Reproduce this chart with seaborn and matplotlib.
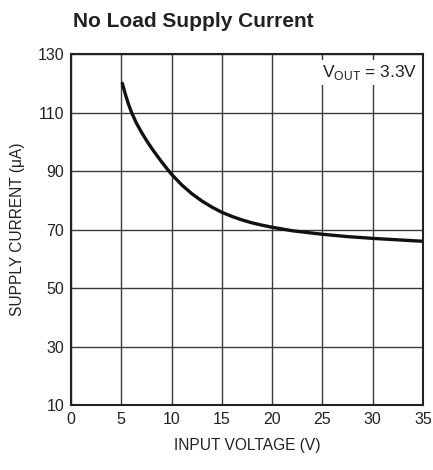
import numpy as np
import pandas as pd
import matplotlib
matplotlib.use('Agg')
import matplotlib.pyplot as plt
import seaborn as sns

# values
vin = [5.1, 5.4, 5.7, 6.0, 6.5, 7, 7.5, 8, 8.5, 9, 9.5, 10, 11, 12, 13, 14, 15,
       16, 17, 18, 19, 20, 22, 25, 27.5, 30, 32.5, 35]
i_supply = [120.0, 116.3, 113.0, 110.2, 106.4, 103.3, 100.5, 97.9, 95.5, 93.2,
            91.0, 88.9, 85.3, 82.3, 79.8, 77.7, 75.9, 74.5, 73.3, 72.3, 71.5,
            70.8, 69.6, 68.4, 67.6, 67.0, 66.5, 66.0]

x_ticks = [0, 5, 10, 15, 20, 25, 30, 35]
y_ticks = [10, 30, 50, 70, 90, 110, 130]

sns.set_style('white')
plt.rcParams['font.family'] = ['Liberation Sans', 'DejaVu Sans']

df = pd.DataFrame({'vin': vin, 'current': i_supply})

fig = plt.figure(figsize=(4.33, 4.70), dpi=100)
ax = fig.add_axes([0.164, 0.138, 0.813, 0.747])

sns.lineplot(data=df, x='vin', y='current', ax=ax, color='#111111', linewidth=2.4)

ax.set_xlim(0, 35)
ax.set_ylim(10, 130)
ax.set_xticks(x_ticks)
ax.set_yticks(y_ticks)
ax.grid(True, color='#3a3a3a', linewidth=1.0)
ax.set_axisbelow(True)
for s in ax.spines.values():
    s.set_color('#222222')
    s.set_linewidth(1.5)
ax.tick_params(length=0, labelsize=11.5, colors='#222222', pad=5)

ax.set_xlabel('INPUT VOLTAGE (V)', fontsize=11.2, color='#222222', labelpad=8)
ax.set_ylabel('SUPPLY CURRENT (\u03bcA)', fontsize=11.2, color='#222222', labelpad=9)

ax.text(0.985, 0.975, r'V$_{\mathregular{OUT}}$ = 3.3V', transform=ax.transAxes,
        ha='right', va='top', fontsize=12.5, color='#222222',
        bbox=dict(facecolor='white', edgecolor='none', pad=2))

fig.text(0.168, 0.955, 'No Load Supply Current', fontsize=15, fontweight='bold',
         color='#222222', ha='left', va='center')

fig.savefig('out.png', dpi=100)
